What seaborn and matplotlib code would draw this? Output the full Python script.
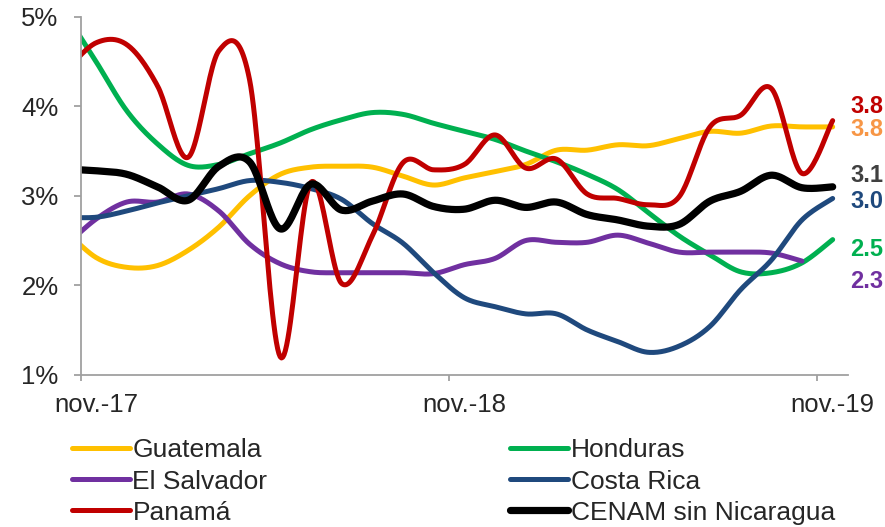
import numpy as np
import pandas as pd
import matplotlib
matplotlib.use("Agg")
import matplotlib.pyplot as plt
import matplotlib.transforms as mtrans
import seaborn as sns

# Monthly values, oct-17 .. nov-19 (oct-17 only feeds the clipped start at the axis)
months = pd.period_range("2017-10", "2019-11", freq="M")

guatemala = [2.61, 2.31, 2.20, 2.22, 2.39, 2.65, 3.00, 3.24, 3.32, 3.33, 3.32, 3.22, 3.12,
             3.20, 3.27, 3.35, 3.51, 3.51, 3.57, 3.56, 3.64, 3.72, 3.70, 3.78, 3.77, 3.77]
honduras = [5.04, 4.50, 3.95, 3.58, 3.34, 3.35, 3.47, 3.59, 3.74, 3.85, 3.93, 3.91, 3.81,
            3.72, 3.63, 3.50, 3.38, 3.24, 3.07, 2.81, 2.55, 2.34, 2.15, 2.14, 2.25, 2.51]
el_salvador = [2.44, 2.74, 2.93, 2.93, 3.02, 2.83, 2.46, 2.24, 2.15, 2.14, 2.14, 2.14, 2.13,
               2.23, 2.30, 2.50, 2.48, 2.48, 2.56, 2.47, 2.37, 2.37, 2.37, 2.36, 2.27, np.nan]
costa_rica = [2.76, 2.76, 2.83, 2.92, 3.00, 3.08, 3.17, 3.15, 3.08, 2.96, 2.69, 2.47, 2.14,
              1.86, 1.76, 1.68, 1.68, 1.50, 1.37, 1.25, 1.32, 1.54, 1.95, 2.28, 2.73, 2.97]
panama = [4.39, 4.71, 4.69, 4.23, 3.43, 4.62, 4.30, 1.20, 3.15, 2.02, 2.55, 3.37, 3.29,
          3.35, 3.68, 3.31, 3.41, 3.02, 2.97, 2.90, 2.99, 3.77, 3.90, 4.20, 3.25, 3.84]
cenam = [3.30, 3.28, 3.24, 3.10, 2.95, 3.33, 3.38, 2.63, 3.13, 2.84, 2.94, 3.02, 2.88,
         2.85, 2.95, 2.87, 2.93, 2.79, 2.73, 2.66, 2.68, 2.94, 3.05, 3.23, 3.09, 3.10]

series_names = ["Guatemala", "Honduras", "El Salvador", "Costa Rica", "Panamá", "CENAM sin Nicaragua"]
series_vals = [guatemala, honduras, el_salvador, costa_rica, panama, cenam]
line_colors = ["#FFC000", "#00B050", "#7030A0", "#1F497D", "#C00000", "#000000"]
label_colors = ["#F79646", "#00B050", "#7030A0", "#1F497D", "#C00000", "#404040"]
tick_labels = ["nov.-17", "nov.-18", "nov.-19"]


def smooth(x, y, n=24):
    # Excel-like smoothed line (Catmull-Rom through the monthly points)
    x = np.asarray(x, float)
    y = np.asarray(y, float)
    px = np.r_[x[0], x, x[-1]]
    py = np.r_[y[0], y, y[-1]]
    t = np.linspace(0, 1, n, endpoint=False)
    xs, ys = [], []
    for k in range(1, len(px) - 2):
        for p, out in ((px, xs), (py, ys)):
            p0, p1, p2, p3 = p[k - 1], p[k], p[k + 1], p[k + 2]
            out.append(0.5 * (2 * p1 + (-p0 + p2) * t + (2 * p0 - 5 * p1 + 4 * p2 - p3) * t ** 2
                              + (-p0 + 3 * p1 - 3 * p2 + p3) * t ** 3))
    xs.append([x[-1]])
    ys.append([y[-1]])
    return np.concatenate(xs), np.concatenate(ys)


# month index: 0 = nov-17
idx = np.arange(len(months)) - 1
rows = []
for name, vals in zip(series_names, series_vals):
    s = pd.Series(vals, index=idx).dropna()
    sx, sy = smooth(s.index, s.values)
    rows.append(pd.DataFrame({"x": sx, "valor": sy, "serie": name}))
df = pd.concat(rows, ignore_index=True)

sns.set_style("white")
plt.rcParams["font.family"] = ["Liberation Sans", "DejaVu Sans"]

fig = plt.figure(figsize=(8.85, 5.27), dpi=100)
ax = fig.add_axes([0.0912, 0.289, 0.867, 0.679])

for name, col in zip(series_names, line_colors):
    lw = 5.2 if col == "#000000" else 3.6
    sns.lineplot(data=df[df["serie"] == name], x="x", y="valor", color=col, lw=lw,
                 estimator=None, sort=False, label=name, ax=ax,
                 solid_capstyle="round", solid_joinstyle="round")

ax.set_xlim(-0.5, 24.5)
ax.set_ylim(1, 5)
ax.set_yticks([1, 2, 3, 4, 5])
ax.set_yticklabels([f"{v}%" for v in [1, 2, 3, 4, 5]])
ax.set_xticks([-0.5, 11.5, 23.5])
ax.set_xticklabels(["", "", ""])
ax.set_xticks([0, 12, 24], minor=True)
ax.set_xticklabels(tick_labels, minor=True)
ax.set_xlabel("")
ax.set_ylabel("")

for side in ["top", "right"]:
    ax.spines[side].set_visible(False)
for side in ["left", "bottom"]:
    ax.spines[side].set_color("#A0A0A0")
    ax.spines[side].set_linewidth(1.3)
ax.tick_params(axis="y", which="major", direction="out", length=5, width=1.3,
               color="#A0A0A0", labelsize=18.5, pad=11, left=True)
ax.tick_params(axis="x", which="major", direction="out", length=4.5, width=1.3,
               color="#A0A0A0", bottom=True)
ax.tick_params(axis="x", which="minor", length=0, labelsize=18.5, pad=13)

# end-of-period labels to the right of the plot
label_pos = {"Panamá": 4.00, "Guatemala": 3.74, "CENAM sin Nicaragua": 3.23,
             "Costa Rica": 2.94, "Honduras": 2.40, "El Salvador": 2.04}
trans = mtrans.blended_transform_factory(ax.transAxes, ax.transData)
for name, vals, col in zip(series_names, series_vals, label_colors):
    last = pd.Series(vals).dropna().iloc[-1]
    ax.text(1.003, label_pos[name], f"{last:.1f}", transform=trans, color=col,
            fontsize=17, fontweight="bold", va="center", ha="left", clip_on=False)

handles, labels = ax.get_legend_handles_labels()
ax.get_legend().remove()
order = [0, 2, 4, 1, 3, 5]
fig.legend([handles[i] for i in order], [labels[i] for i in order], ncol=2,
           loc="upper left", bbox_to_anchor=(0.081, 0.168), frameon=False,
           fontsize=19, handlelength=2.2, handletextpad=0.1, columnspacing=9.2,
           labelspacing=0.27, borderpad=0, borderaxespad=0)

fig.savefig("out.png", dpi=100)
